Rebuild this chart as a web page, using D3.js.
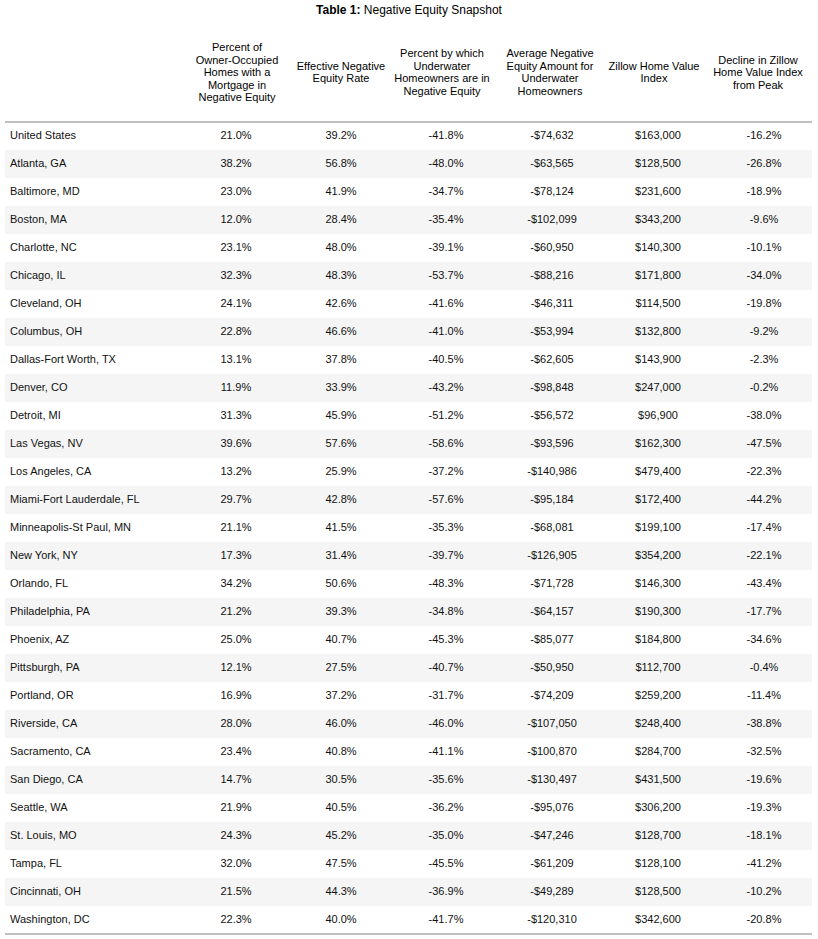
<!DOCTYPE html>
<html><head><meta charset="utf-8">
<script src="https://cdn.jsdelivr.net/npm/d3@7"></script>
<style>body{margin:0;background:#fff;} svg{display:block;font-family:"Liberation Sans",Arial,sans-serif;}</style>
</head><body>
<script>
const title = ["Table 1:", " Negative Equity Snapshot"];
const headers = [
  ["Percent of","Owner-Occupied","Homes with a","Mortgage in","Negative Equity"],
  ["Effective Negative","Equity Rate"],
  ["Percent by which","Underwater","Homeowners are in","Negative Equity"],
  ["Average Negative","Equity Amount for","Underwater","Homeowners"],
  ["Zillow Home Value","Index"],
  ["Decline in Zillow","Home Value Index","from Peak"]
];
const metros = ["United States","Atlanta, GA","Baltimore, MD","Boston, MA","Charlotte, NC","Chicago, IL","Cleveland, OH","Columbus, OH","Dallas-Fort Worth, TX","Denver, CO","Detroit, MI","Las Vegas, NV","Los Angeles, CA","Miami-Fort Lauderdale, FL","Minneapolis-St Paul, MN","New York, NY","Orlando, FL","Philadelphia, PA","Phoenix, AZ","Pittsburgh, PA","Portland, OR","Riverside, CA","Sacramento, CA","San Diego, CA","Seattle, WA","St. Louis, MO","Tampa, FL","Cincinnati, OH","Washington, DC"];
const pctNegEquity = [21.0,38.2,23.0,12.0,23.1,32.3,24.1,22.8,13.1,11.9,31.3,39.6,13.2,29.7,21.1,17.3,34.2,21.2,25.0,12.1,16.9,28.0,23.4,14.7,21.9,24.3,32.0,21.5,22.3];
const effectiveRate = [39.2,56.8,41.9,28.4,48.0,48.3,42.6,46.6,37.8,33.9,45.9,57.6,25.9,42.8,41.5,31.4,50.6,39.3,40.7,27.5,37.2,46.0,40.8,30.5,40.5,45.2,47.5,44.3,40.0];
const pctUnderwater = [-41.8,-48.0,-34.7,-35.4,-39.1,-53.7,-41.6,-41.0,-40.5,-43.2,-51.2,-58.6,-37.2,-57.6,-35.3,-39.7,-48.3,-34.8,-45.3,-40.7,-31.7,-46.0,-41.1,-35.6,-36.2,-35.0,-45.5,-36.9,-41.7];
const avgNegEquity = [-74632,-63565,-78124,-102099,-60950,-88216,-46311,-53994,-62605,-98848,-56572,-93596,-140986,-95184,-68081,-126905,-71728,-64157,-85077,-50950,-74209,-107050,-100870,-130497,-95076,-47246,-61209,-49289,-120310];
const zhvi = [163000,128500,231600,343200,140300,171800,114500,132800,143900,247000,96900,162300,479400,172400,199100,354200,146300,190300,184800,112700,259200,248400,284700,431500,306200,128700,128100,128500,342600];
const declineFromPeak = [-16.2,-26.8,-18.9,-9.6,-10.1,-34.0,-19.8,-9.2,-2.3,-0.2,-38.0,-47.5,-22.3,-44.2,-17.4,-22.1,-43.4,-17.7,-34.6,-0.4,-11.4,-38.8,-32.5,-19.6,-19.3,-18.1,-41.2,-10.2,-20.8];

const W = 818, H = 939;
const loc = d3.formatLocale({decimal:".", thousands:",", grouping:[3], currency:["$",""], minus:"-"});
const fPct = v => loc.format(".1f")(v) + "%";
const fCur = loc.format("$,.0f");
const columns = [
  {vals: pctNegEquity, fmt: fPct},
  {vals: effectiveRate, fmt: fPct},
  {vals: pctUnderwater, fmt: fPct},
  {vals: avgNegEquity, fmt: fCur},
  {vals: zhvi, fmt: fCur},
  {vals: declineFromPeak, fmt: fPct}
];
const colIdx = d3.range(columns.length);
const xVal = d3.scaleOrdinal().domain(colIdx).range([236,341,446,552,658,764]);
const xHead = d3.scaleOrdinal().domain(colIdx).range([237,341,442,550,654,758]);
const y = d3.scaleBand().domain(metros).range([122, 934]);

const svg = d3.select("body").append("svg").attr("width", W).attr("height", H);

// title
const t = svg.append("text").attr("x", W/2).attr("y", 14).attr("text-anchor","middle")
  .attr("font-size", 12).attr("fill","#000");
t.append("tspan").attr("font-weight","bold").text(title[0]);
t.append("tspan").text(title[1]);

// headers
const lh = 12.5, hc = 72;
headers.forEach((lines, i) => {
  const g = svg.append("text").attr("text-anchor","middle").attr("font-size",11).attr("fill","#000");
  const y0 = hc - (lines.length-1)*lh/2 + 4;
  lines.forEach((l, j) => {
    g.append("tspan").attr("x", xHead(i)).attr("y", y0 + j*lh).text(l);
  });
});

// stripes
svg.append("g").selectAll("rect").data(metros.filter((d,i)=>i%2===1)).join("rect")
  .attr("x", 5).attr("width", 807).attr("y", d => y(d)).attr("height", y.bandwidth())
  .attr("fill", "#f5f5f5");

// lines
svg.append("line").attr("x1",5).attr("x2",812).attr("y1",122).attr("y2",122).attr("stroke","#aaa").attr("stroke-width",1.5);
svg.append("line").attr("x1",5).attr("x2",812).attr("y1",934).attr("y2",934).attr("stroke","#aaa").attr("stroke-width",1.5);

// row labels
svg.append("g").selectAll("text").data(metros).join("text")
  .attr("x", 10).attr("y", d => y(d) + 16.8).attr("font-size", 11).attr("fill","#111").text(d => d);

// cells
columns.forEach((c, i) => {
  svg.append("g").selectAll("text").data(c.vals).join("text")
    .attr("x", xVal(i)).attr("y", (d, k) => y(metros[k]) + 16.8)
    .attr("text-anchor","middle").attr("font-size", 11).attr("fill","#111")
    .text(d => c.fmt(d));
});
</script>
</body></html>
